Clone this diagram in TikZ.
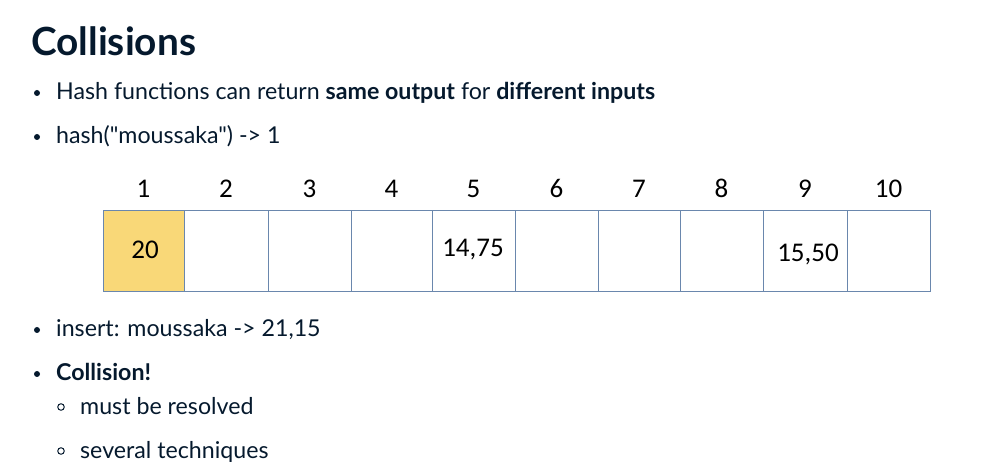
\documentclass[tikz,border=0pt]{standalone}
\usepackage{fontspec}
\setmainfont{Lato}[Ligatures=TeXOff]
\newfontfamily\tabfont{Carlito}
\definecolor{ink}{HTML}{05192D}
\definecolor{cellline}{HTML}{6A87AD}
\definecolor{cellfill}{HTML}{F9D878}
\tikzset{
  bul/.style={anchor=base west, inner sep=0pt, text=ink, font=\fontsize{23.2}{26}\selectfont},
  ttl/.style={anchor=base west, inner sep=0pt, text=ink, font=\fontsize{38.8}{42}\selectfont\bfseries},
  dot/.style={circle, fill=ink, inner sep=0pt, minimum size=6pt},
  odot/.style={circle, draw=ink, line width=1pt, inner sep=0pt, minimum size=6.5pt},
  cell/.style={draw=cellline, line width=1.3pt, minimum height=81pt, inner sep=0pt, anchor=north west},
  hdr/.style={anchor=base, inner sep=0pt, font=\tabfont\fontsize{27}{30}\selectfont},
  val/.style={anchor=base, inner sep=0pt, font=\tabfont\fontsize{27}{30}\selectfont}
}
\begin{document}
\begin{tikzpicture}[x=1pt,y=-1pt]
\useasboundingbox (0,0) rectangle (991,470);
\node[ttl] (title) at (31,56) {Collisions};
\node[dot] (b1) at (37,93) {};
\node[bul] (t1) at (56,100) {Hash functions can return \textbf{same output} for \textbf{different inputs}};
\node[dot] (b2) at (37,137) {};
\node[bul] (t2) at (56,144) {hash("moussaka") -> 1};
% table
\node[cell, fill=cellfill, minimum width=81pt] (c1f) at (103,210) {};
\foreach \i/\a/\b in {1/103/184,2/184/268,3/268/351,4/351/432,5/432/515,6/515/598,7/598/680,8/680/763,9/763/847,10/847/930} {
  \pgfmathsetmacro{\ww}{\b-\a}
  \node[cell, minimum width=\ww pt] (c\i) at (\a,210) {};
  \node[hdr] (h\i) at ({(\a+\b)/2},198) {\i};
}
\node[val] (v1) at (145,259) {20};
\node[val] (v5) at (473,257) {14,75};
\node[val] (v9) at (808,262) {15,50};
\node[dot] (b3) at (37,330) {};
\node[bul] (t3) at (56,337) {insert: moussaka -> 21,15};
\node[dot] (b4) at (37,374) {};
\node[bul] (t4) at (56,381) {\textbf{Collision!}};
\node[odot] (s1) at (61,407) {};
\node[bul] (t5) at (80,414) {must be resolved};
\node[odot] (s2) at (61,451) {};
\node[bul] (t6) at (80,458) {several techniques};
\end{tikzpicture}
\end{document}
